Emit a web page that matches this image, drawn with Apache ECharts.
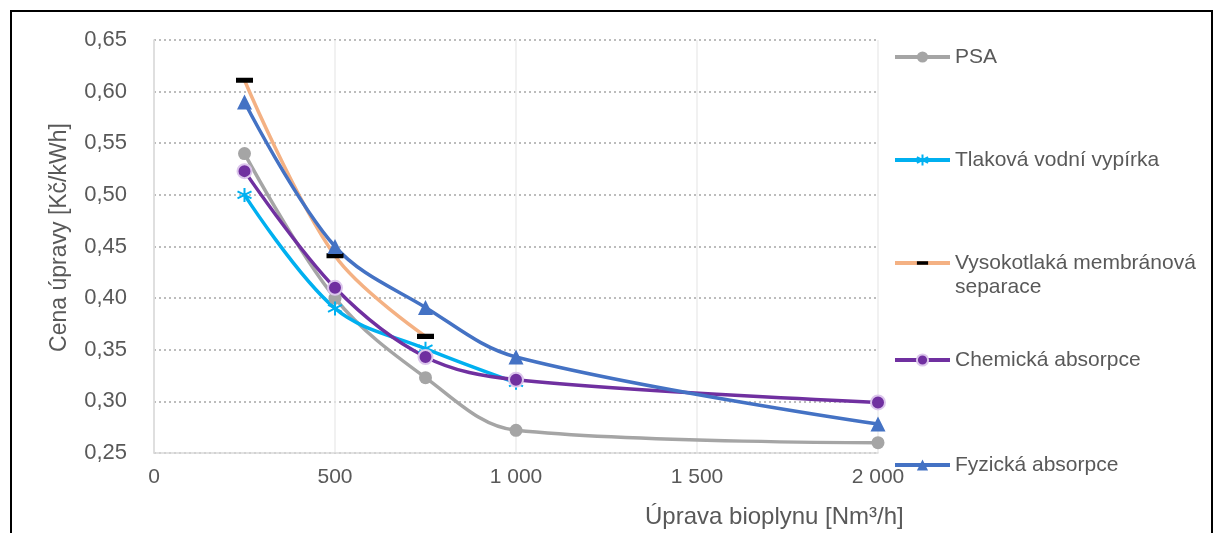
<!DOCTYPE html>
<html>
<head>
<meta charset="utf-8">
<script src="https://cdn.jsdelivr.net/npm/echarts@6/dist/echarts.min.js"></script>
<style>
	html, body { margin: 0; padding: 0; background: #fff; }
	#chart { position: absolute; left: 0; top: 0; width: 1213px; height: 533px; }
	.frame { position: absolute; left: 10px; top: 10px; width: 1199px; height: 600px; border: 2px solid #000; pointer-events: none; }
</style>
</head>
<body>
<div id="chart"></div>
<div class="frame"></div>
<script>
// x hodnoty (Nm3/h)
const xValues = [250, 500, 750, 1000, 2000];

const psa = [0.54, 0.40, 0.323, 0.272, 0.26];
const tlakova = [0.50, 0.39, 0.351, 0.318];
const vysokotlaka = [0.611, 0.441, 0.363];
const chemicka = [0.523, 0.41, 0.343, 0.321, 0.299];
const fyzicka = [0.59, 0.45, 0.391, 0.343, 0.278];

const seriesNames = ['PSA', 'Tlaková vodní vypírka', 'Vysokotlaká membránová separace', 'Chemická absorpce', 'Fyzická absorpce'];

const fontFamily = '"Liberation Sans", Arial, sans-serif';
const textColor = '#595959';

const pairs = vals => vals.map((v, i) => [xValues[i], v]);

// hvězdička a vodorovná čárka (čtvercový box, aby se nedeformovaly)
const asterisk = 'path://M5,0L5,10M0.7,2.5L9.3,7.5M0.7,7.5L9.3,2.5';
const dash = 'path://M0,0h0.01M0,4.2h12v3.6h-12zM12,12h-0.01';

// středy položek legendy (y)
const legendCenters = [57, 160, 263, 360, 465];
const LH = 24;

const chart = echarts.init(document.getElementById('chart'));

chart.setOption({
	backgroundColor: '#fff',
	animation: false,
	textStyle: { fontFamily },
	title: {
		text: 'Úprava bioplynu [Nm³/h]',
		left: 645,
		top: 505,
		padding: 0,
		textStyle: { color: textColor, fontSize: 24, fontWeight: 'normal', fontFamily },
	},
	legend: seriesNames.map((name, i) => ({
		data: [name],
		left: 893,
		// víceřádkový popisek: prázdný první řádek, aby ikona seděla u prvního řádku textu
		top: i === 2 ? legendCenters[i] - LH * 1.5 : legendCenters[i] - LH / 2,
		padding: 0,
		itemWidth: 55,
		itemHeight: 14,
		itemGap: 0,
		lineStyle: { width: 4 },
		formatter: n => n === 'Vysokotlaká membránová separace' ? '\nVysokotlaká membránová\nseparace' : n,
		textStyle: {
			color: textColor,
			fontSize: 21,
			fontFamily,
			lineHeight: LH,
		},
	})),
	grid: { left: 154, right: 335, top: 40, bottom: 80 },
	xAxis: {
		type: 'value',
		min: 0,
		max: 2000,
		interval: 500,
		axisLine: { show: true, lineStyle: { color: '#d9d9d9', width: 1.5 } },
		axisTick: { show: false },
		axisLabel: {
			color: textColor,
			fontSize: 21,
			margin: 14,
			formatter: v => String(v).replace(/\B(?=(\d{3})+(?!\d))/g, ' '),
		},
		splitLine: { show: true, lineStyle: { color: '#ececec', width: 1.5 } },
	},
	yAxis: {
		type: 'value',
		min: 0.25,
		max: 0.65,
		interval: 0.05,
		name: 'Cena úpravy [Kč/kWh]',
		nameLocation: 'middle',
		nameRotate: 90,
		nameGap: 83,
		nameTextStyle: { color: textColor, fontSize: 23, fontFamily, padding: [0, 0, 0, 18] },
		axisLine: { show: true, lineStyle: { color: '#d9d9d9', width: 1.5 } },
		axisTick: { show: false },
		axisLabel: {
			color: textColor,
			fontSize: 22,
			margin: 27,
			formatter: v => v.toFixed(2).replace('.', ','),
		},
		splitLine: { show: true, lineStyle: { color: '#a6a6a6', type: [2, 3], width: 1.5 } },
	},
	series: [
		{
			name: seriesNames[0],
			type: 'line',
			data: pairs(psa),
			smooth: 0.35,
			symbol: 'circle',
			symbolSize: 13,
			lineStyle: { color: '#a5a5a5', width: 3.5 },
			itemStyle: { color: '#a5a5a5' },
		},
		{
			name: seriesNames[1],
			type: 'line',
			data: pairs(tlakova),
			smooth: 0.35,
			symbol: asterisk,
			symbolSize: 14,
			lineStyle: { color: '#00b0f0', width: 3.5 },
			itemStyle: { color: '#00b0f0', borderColor: '#00b0f0', borderWidth: 2 },
		},
		{
			name: seriesNames[2],
			type: 'line',
			data: pairs(vysokotlaka),
			smooth: 0.35,
			symbol: dash,
			symbolSize: 17,
			lineStyle: { color: '#f4b183', width: 3.5 },
			itemStyle: { color: '#000' },
		},
		{
			name: seriesNames[3],
			type: 'line',
			data: pairs(chemicka),
			smooth: 0.35,
			symbol: 'circle',
			symbolSize: 14,
			lineStyle: { color: '#7030a0', width: 3.5 },
			itemStyle: { color: '#7030a0', borderColor: '#dcc6ec', borderWidth: 2 },
		},
		{
			name: seriesNames[4],
			type: 'line',
			data: pairs(fyzicka),
			smooth: 0.35,
			symbol: 'triangle',
			symbolSize: 15,
			lineStyle: { color: '#4472c4', width: 3.5 },
			itemStyle: { color: '#4472c4' },
		},
	],
});
</script>
</body>
</html>
